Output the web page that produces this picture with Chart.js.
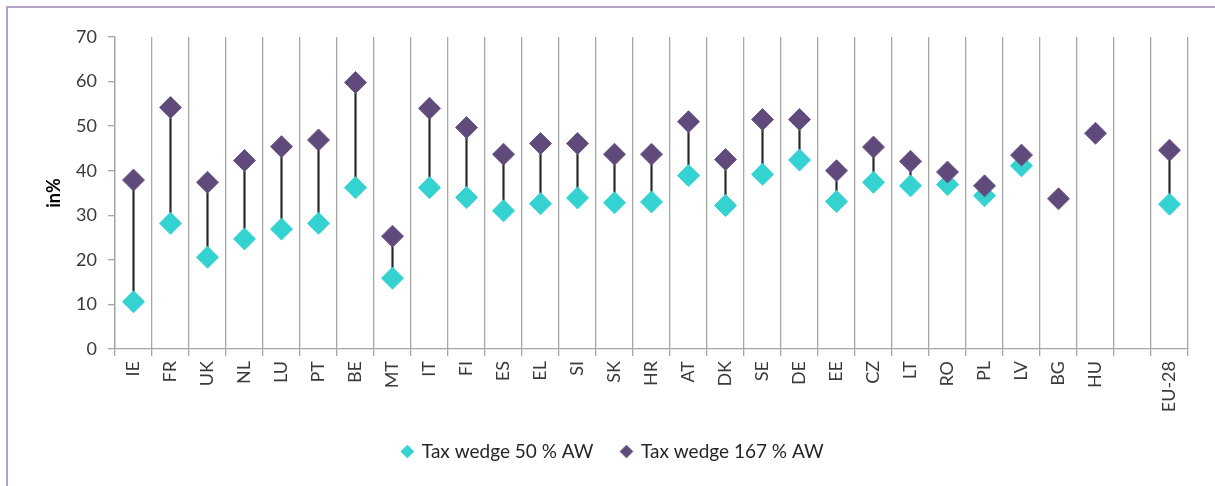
<!DOCTYPE html>
<html>
<head>
<meta charset="utf-8">
<script src="https://cdn.jsdelivr.net/npm/chart.js@4"></script>
<style>
    body { margin: 0; background: #fff; }
    #wrap { position: relative; width: 1215px; height: 486px; }
    #frame {
        position: absolute; left: 6px; top: 6px; right: 0; bottom: 0;
        border-left: 2px solid #b3a2c7; border-top: 2px solid #b3a2c7;
    }
    #wrap canvas { position: absolute; left: 0; top: 0; }
</style>
</head>
<body>
<div id="wrap">
    <div id="frame"></div>
    <canvas id="taxChart"></canvas>
</div>
<script>

//=================DATA==================

const categories = ['IE', 'FR', 'UK', 'NL', 'LU', 'PT', 'BE', 'MT', 'IT', 'FI', 'ES', 'EL', 'SI', 'SK',
    'HR', 'AT', 'DK', 'SE', 'DE', 'EE', 'CZ', 'LT', 'RO', 'PL', 'LV', 'BG', 'HU', '', 'EU-28'];

// tax wedge at 50 % of average wage (no value for BG, HU)
const wedge50 = [10.6, 28.2, 20.6, 24.7, 26.9, 28.2, 36.2, 15.9, 36.2, 34.0, 31.0, 32.6, 33.9, 32.8,
    33.0, 38.9, 32.2, 39.2, 42.4, 33.1, 37.4, 36.6, 36.9, 34.4, 41.1, null, null, null, 32.5];

// tax wedge at 167 % of average wage
const wedge167 = [37.9, 54.2, 37.4, 42.3, 45.4, 46.9, 59.8, 25.3, 54.0, 49.7, 43.7, 46.1, 46.1, 43.7,
    43.7, 51.0, 42.5, 51.5, 51.5, 40.0, 45.3, 42.1, 39.7, 36.6, 43.5, 33.7, 48.4, null, 44.6];

const yTicks = [0, 10, 20, 30, 40, 50, 60, 70];

// high-low line between the two markers, only where both exist
const spans = wedge50.map((v, i) =>
    (v === null || wedge167[i] === null) ? null : [v, wedge167[i]]);

// ================CHART==============

const tickFont = { family: 'Lato', size: 18 };
const gridGrey = '#a6a6a6';
const legendPad = 28;

const ctx = document.getElementById('taxChart').getContext('2d');
const chart = new Chart(ctx, {
    type: 'line',
    data: {
        labels: categories,
        datasets: [
            {
                label: 'Tax wedge 50 % AW',
                data: wedge50,
                showLine: false,
                pointStyle: 'rectRot',
                pointRadius: 11,
                pointHoverRadius: 11,
                pointBackgroundColor: '#35d2d2',
                pointBorderColor: '#35d2d2',
                backgroundColor: '#35d2d2',
                borderColor: '#35d2d2',
                order: 2
            },
            {
                label: 'Tax wedge 167 % AW',
                data: wedge167,
                showLine: false,
                pointStyle: 'rectRot',
                pointRadius: 11,
                pointHoverRadius: 11,
                pointBackgroundColor: '#604a7b',
                pointBorderColor: '#6e5a8a',
                backgroundColor: '#604a7b',
                borderColor: '#604a7b',
                order: 1
            },
            {
                type: 'bar',
                label: 'range',
                data: spans,
                backgroundColor: '#262626',
                barThickness: 1.5,
                order: 3
            }
        ]
    },
    options: {
        responsive: true,
        maintainAspectRatio: false,
        animation: false,
        layout: {
            padding: { left: 38, top: 37, right: 27, bottom: 15 }
        },
        plugins: {
            tooltip: { enabled: false },
            legend: {
                position: 'bottom',
                labels: {
                    usePointStyle: true,
                    boxWidth: 10,
                    boxHeight: 9,
                    padding: legendPad,
                    color: '#262626',
                    font: { family: 'Lato', size: 19 },
                    filter: item => item.datasetIndex !== 2,
                    sort: (a, b) => a.datasetIndex - b.datasetIndex
                }
            }
        },
        scales: {
            x: {
                offset: true,
                grid: {
                    offset: true,
                    color: gridGrey,
                    lineWidth: 1.3,
                    tickLength: 7
                },
                border: { color: gridGrey, width: 1.3 },
                ticks: {
                    autoSkip: false,
                    minRotation: 90,
                    maxRotation: 90,
                    padding: 5,
                    color: '#3a3a3a',
                    font: tickFont
                },
                // keep the axis box tall enough for EU-28, legend sits below it
                afterFit: scale => { scale.height = 93 - legendPad; }
            },
            y: {
                min: 0,
                max: 70,
                afterBuildTicks: scale => { scale.ticks = yTicks.map(v => ({ value: v })); },
                grid: {
                    drawOnChartArea: false,
                    color: gridGrey,
                    lineWidth: 1.3,
                    tickLength: 7
                },
                border: { color: gridGrey, width: 1.3 },
                ticks: {
                    padding: 11,
                    color: '#3a3a3a',
                    font: tickFont
                },
                title: {
                    display: true,
                    text: 'in%',
                    color: '#000',
                    padding: { top: 5, bottom: 0 },
                    font: { family: 'Lato', size: 18, weight: 'bold' }
                },
                afterFit: scale => { scale.width = 77; }
            }
        }
    }
});

// ==================END======================
</script>
</body>
</html>
